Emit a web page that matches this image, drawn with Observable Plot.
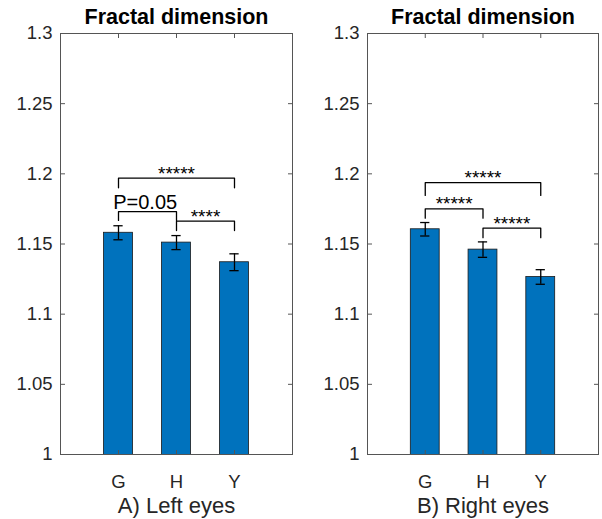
<!DOCTYPE html>
<html><head><meta charset="utf-8">
<script src="https://cdn.jsdelivr.net/npm/d3@7"></script>
<script src="https://cdn.jsdelivr.net/npm/@observablehq/plot@0.6"></script>
<style>
body{margin:0;background:#fff;}
#wrap{display:flex;width:602px;height:519px;}
</style>
</head><body><div id="wrap"></div>
<script>
const categories = ["G", "H", "Y"];
const yTicks = [1, 1.05, 1.1, 1.15, 1.2, 1.25, 1.3];
const titleText = "Fractal dimension";

const leftMeans = [1.158, 1.151, 1.137];
const leftErrors = [0.005, 0.005, 0.006];
const leftBracketFrom = ["G", "G", "H"];
const leftBracketTo = ["Y", "H", "Y"];
const leftBracketTop = [1.197, 1.173, 1.1663];
const leftBracketFoot = [1.190, 1.1668, 1.1596];
const leftBracketLabels = ["*****", "P=0.05", "****"];
const leftXLabel = "A) Left eyes";

const rightMeans = [1.1605, 1.146, 1.1265];
const rightErrors = [0.0048, 0.0055, 0.0052];
const rightBracketFrom = ["G", "G", "H"];
const rightBracketTo = ["Y", "H", "Y"];
const rightBracketTop = [1.1937, 1.1751, 1.1613];
const rightBracketFoot = [1.1846, 1.1684, 1.1545];
const rightBracketLabels = ["*****", "*****", "*****"];
const rightXLabel = "B) Right eyes";

const pos = c => categories.indexOf(c) + 1;
const axisColor = "#555";
const textColor = "#262626";

function panel(means, errors, bFrom, bTo, bTop, bFoot, bLabels, xlabel, mLeft, mRight, w) {
  const bars = categories.map((c, i) => ({cat: c, x: i + 1, mean: means[i], err: errors[i]}));
  const caps = bars.flatMap(d => [{x: d.x, y: d.mean - d.err}, {x: d.x, y: d.mean + d.err}]);
  const brackets = bLabels.map((t, i) => ({
    id: i, a: pos(bFrom[i]), b: pos(bTo[i]), top: bTop[i], foot: bFoot[i], label: t
  }));
  const pts = brackets.flatMap(d => [
    {id: d.id, x: d.a, y: d.foot}, {id: d.id, x: d.a, y: d.top},
    {id: d.id, x: d.b, y: d.top}, {id: d.id, x: d.b, y: d.foot}
  ]);
  const mid = d => (d.a + d.b) / 2;
  return Plot.plot({
    width: w, height: 519,
    marginLeft: mLeft, marginRight: mRight, marginTop: 33, marginBottom: 65,
    style: {fontFamily: "'Liberation Sans', Arial, sans-serif", background: "white", overflow: "visible"},
    x: {domain: [0, 4], axis: null},
    y: {domain: [1, 1.3], axis: null},
    marks: [
      Plot.rectY(bars, {x1: d => d.x - 0.25, x2: d => d.x + 0.25, y: "mean", fill: "#0072BD", stroke: "#1a1a1a", strokeWidth: 0.8, clip: true}),
      Plot.ruleX(bars, {x: "x", y1: d => d.mean - d.err, y2: d => d.mean + d.err, stroke: "black", strokeWidth: 1.3}),
      Plot.ruleY(caps, {x1: d => d.x - 0.08, x2: d => d.x + 0.08, y: "y", stroke: "black", strokeWidth: 1.3}),
      Plot.line(pts, {x: "x", y: "y", z: "id", stroke: "black", strokeWidth: 1.3, curve: "linear"}),
      Plot.text(brackets.filter(d => d.label.startsWith("*")), {x: mid, y: "top", text: "label", lineAnchor: "bottom", dy: 1.5, fontSize: 19, fill: "black"}),
      Plot.text(brackets.filter(d => !d.label.startsWith("*")), {x: d => mid(d) - 0.04, y: "top", text: "label", lineAnchor: "bottom", dy: -3, fontSize: 20, fill: "black"}),
      Plot.frame({stroke: axisColor, strokeWidth: 1}),
      Plot.axisY({anchor: "left", label: null, ticks: yTicks, tickSize: -5, tickPadding: 13, tickFormat: d => d3.format("~g")(d), fontSize: 18.5, color: textColor, stroke: axisColor}),
      Plot.axisY({anchor: "right", label: null, ticks: yTicks, tickSize: -5, text: null, stroke: axisColor}),
      Plot.axisX({anchor: "bottom", label: null, ticks: [1, 2, 3], tickSize: -4, tickPadding: 24, tickFormat: d => categories[d - 1], fontSize: 18.5, color: textColor, stroke: axisColor}),
      Plot.axisX({anchor: "top", label: null, ticks: [1, 2, 3], tickSize: -4, text: null, stroke: axisColor}),
      Plot.text([titleText], {frameAnchor: "top", lineAnchor: "middle", dy: -16, fontSize: 21.5, fontWeight: "bold", fill: "black"}),
      Plot.text([xlabel], {frameAnchor: "bottom", lineAnchor: "middle", dy: 51, fontSize: 22, fill: textColor})
    ]
  });
}

const wrap = document.getElementById("wrap");
wrap.append(
  panel(leftMeans, leftErrors, leftBracketFrom, leftBracketTo, leftBracketTop, leftBracketFoot, leftBracketLabels, leftXLabel, 60, 9, 301),
  panel(rightMeans, rightErrors, rightBracketFrom, rightBracketTo, rightBracketTop, rightBracketFoot, rightBracketLabels, rightXLabel, 66, 4, 301)
);
</script>
</body></html>
